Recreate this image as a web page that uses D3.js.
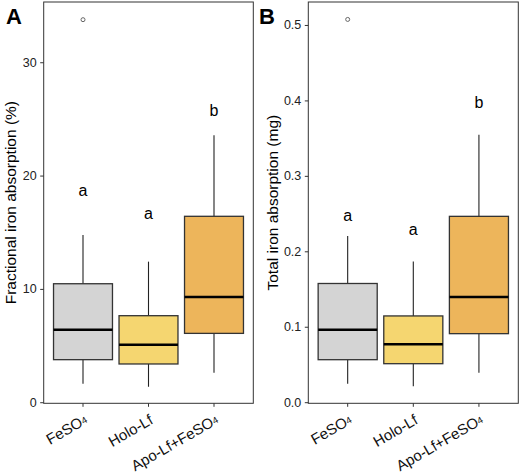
<!DOCTYPE html>
<html><head><meta charset="utf-8">
<script src="https://cdn.jsdelivr.net/npm/d3@7"></script>
<style>body{margin:0;background:#fff}svg{display:block;font-family:"Liberation Sans",Arial,sans-serif}</style>
</head><body><svg id="c" width="520" height="474"></svg>
<script>
const categories = ["FeSO4", "Holo-Lf", "Apo-Lf+FeSO4"];
const colors = ["#d4d4d4", "#f5d670", "#edb55b"];
// [low whisker, Q1, median, Q3, high whisker]
const fracStats = [[1.68, 3.8, 6.44, 10.5, 14.8], [1.41, 3.42, 5.12, 7.68, 12.45], [2.65, 6.12, 9.33, 16.45, 23.6]];
const fracOutliers = [[33.8], [], []];
const fracLetters = ["a", "a", "b"];
const fracLetterY = [18.7, 16.7, 25.8];
const fracTicks = [0, 10, 20, 30];
const totStats = [[0.025, 0.057, 0.0967, 0.158, 0.221], [0.0217, 0.0517, 0.0774, 0.115, 0.187], [0.0398, 0.0915, 0.140, 0.247, 0.355]];
const totOutliers = [[0.508], [], []];
const totLetters = ["a", "a", "b"];
const totLetterY = [0.248, 0.229, 0.398];
const totTicks = [0, 0.1, 0.2, 0.3, 0.4, 0.5];

const svg = d3.select("#c");

function panel(o) {
  const g = svg.append("g");
  const xs = d3.scalePoint().domain(categories).range([o.left, o.right]).padding(0.6);
  const y = d3.scaleLinear().domain(o.domain).range([o.bottom, o.top]);
  const bw = xs.step() * 0.9;
  g.append("rect").attr("x", o.left).attr("y", o.top).attr("width", o.right - o.left).attr("height", o.bottom - o.top)
    .attr("fill", "none").attr("stroke", "#333").attr("stroke-width", 1);
  o.stats.forEach((s, i) => {
    const cx = xs(categories[i]);
    g.append("line").attr("x1", cx).attr("x2", cx).attr("y1", y(s[0])).attr("y2", y(s[1])).attr("stroke", "#222").attr("stroke-width", 1.1);
    g.append("line").attr("x1", cx).attr("x2", cx).attr("y1", y(s[3])).attr("y2", y(s[4])).attr("stroke", "#222").attr("stroke-width", 1.1);
    g.append("rect").attr("x", cx - bw / 2).attr("y", y(s[3])).attr("width", bw).attr("height", y(s[1]) - y(s[3]))
      .attr("fill", colors[i]).attr("stroke", "#333").attr("stroke-width", 1.3);
    g.append("line").attr("x1", cx - bw / 2).attr("x2", cx + bw / 2).attr("y1", y(s[2])).attr("y2", y(s[2])).attr("stroke", "#000").attr("stroke-width", 2.6);
    o.outliers[i].forEach(v => {
      g.append("circle").attr("cx", cx).attr("cy", y(v)).attr("r", 2).attr("fill", "none").attr("stroke", "#666").attr("stroke-width", 1);
    });
    g.append("text").attr("x", cx).attr("y", y(o.letterY[i])).attr("text-anchor", "middle").attr("dominant-baseline", "central")
      .attr("font-size", 16).attr("fill", "#000").text(o.letters[i]);
  });
  o.ticks.forEach(t => {
    g.append("line").attr("x1", o.left - 3.5).attr("x2", o.left).attr("y1", y(t)).attr("y2", y(t)).attr("stroke", "#333");
    g.append("text").attr("x", o.left - 7).attr("y", y(t)).attr("text-anchor", "end").attr("dominant-baseline", "central")
      .attr("font-size", 12.5).attr("fill", "#222").text(o.fmt(t));
  });
  categories.forEach((c, i) => {
    const cx = xs(c);
    g.append("line").attr("x1", cx).attr("x2", cx).attr("y1", o.bottom).attr("y2", o.bottom + 3.5).attr("stroke", "#333");
    const t = g.append("text").attr("transform", `translate(${cx},${o.bottom + 10}) rotate(-30)`)
      .attr("text-anchor", "end").attr("dominant-baseline", "hanging").attr("font-size", 15).attr("fill", "#111");
    if (c.endsWith("FeSO4")) {
      t.append("tspan").text(c.slice(0, -1));
      t.append("tspan").attr("font-size", 9.5).attr("dy", 3).text("4");
    } else t.text(c);
  });
  g.append("text").attr("transform", `translate(${o.titleX},${(o.top + o.bottom) / 2}) rotate(-90)`)
    .attr("text-anchor", "middle").attr("dominant-baseline", "central").attr("font-size", 15.5).attr("fill", "#000").text(o.title);
  g.append("text").attr("x", o.tagX).attr("y", 24).attr("font-size", 22)
    .attr("font-weight", "bold").attr("fill", "#000").text(o.tag);
}

panel({left: 43.7, right: 253.3, top: 2, bottom: 403.3, domain: [-0.05, 35.36], stats: fracStats, outliers: fracOutliers,
  letters: fracLetters, letterY: fracLetterY, ticks: fracTicks, fmt: d3.format("d"), title: "Fractional iron absorption (%)", titleX: 10, tag: "A", tagX: 6});
panel({left: 308.3, right: 518.3, top: 2, bottom: 403.3, domain: [-0.0008, 0.5311], stats: totStats, outliers: totOutliers,
  letters: totLetters, letterY: totLetterY, ticks: totTicks, fmt: d3.format(".1f"), title: "Total iron absorption (mg)", titleX: 272.5, tag: "B", tagX: 259});
</script></body></html>
